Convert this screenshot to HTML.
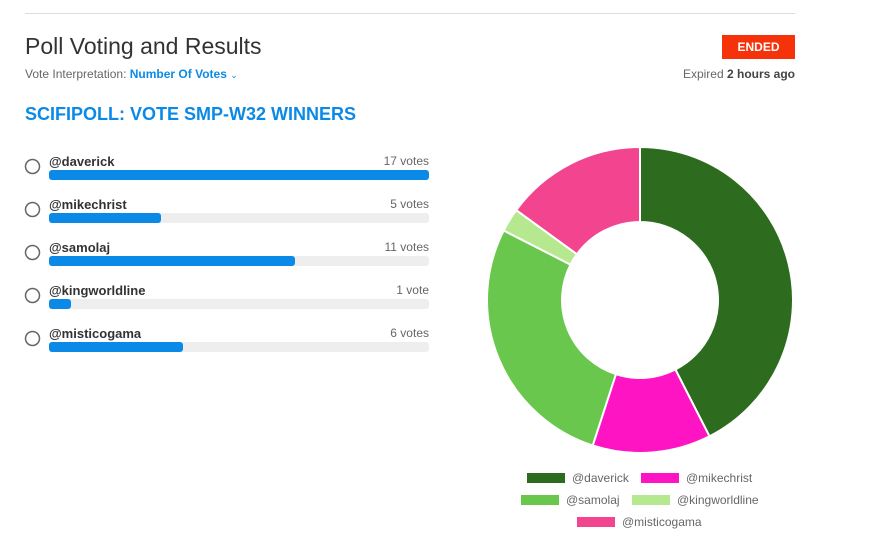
<!DOCTYPE html>
<html><head><style>
body{margin:0;width:875px;height:546px;background:#fff;font-family:"Liberation Sans",sans-serif;position:relative;overflow:hidden}
.a{position:absolute}
.row .name{position:absolute;left:49px;font-size:13px;font-weight:bold;color:#333}
.row .v{position:absolute;right:0;font-size:12px;color:#666}
</style></head><body>
<div class="a" style="left:25px;top:13px;width:770px;height:1px;background:#ddd"></div>
<div class="a" style="left:25px;top:33px;font-size:23px;color:#333;font-weight:500">Poll Voting and Results</div>
<div class="a" style="left:25px;top:67px;font-size:12px;color:#666">Vote Interpretation: <span style="color:#0a8ae6;font-weight:bold">Number Of Votes</span> <span style="color:#0a8ae6;font-size:9px">&#8964;</span></div>
<div class="a" style="left:722px;top:35px;width:73px;height:24px;background:#f5320a;color:#fff;font-size:12px;font-weight:bold;text-align:center;line-height:24px">ENDED</div>
<div class="a" style="right:80px;top:67px;font-size:12px;color:#666">Expired <b style="color:#444">2 hours ago</b></div>
<div class="a" style="left:25px;top:104px;font-size:18px;font-weight:bold;color:#0a8ae6">SCIFIPOLL: VOTE SMP-W32 WINNERS</div>

<div class="a" style="left:0;top:0">
<svg width="440" height="546" style="position:absolute;left:0;top:0">
<g fill="none" stroke="#666" stroke-width="1.5">
<circle cx="32.5" cy="166.5" r="7"/><circle cx="32.5" cy="209.5" r="7"/><circle cx="32.5" cy="252.5" r="7"/><circle cx="32.5" cy="295.5" r="7"/><circle cx="32.5" cy="338.5" r="7"/></g>
<g fill="#eee"><rect x="49" y="170" width="380" height="10" rx="3"/><rect x="49" y="213" width="380" height="10" rx="3"/><rect x="49" y="256" width="380" height="10" rx="3"/><rect x="49" y="299" width="380" height="10" rx="3"/><rect x="49" y="342" width="380" height="10" rx="3"/></g>
<g fill="#0a8ae6"><rect x="49" y="170" width="380" height="10" rx="3"/><rect x="49" y="213" width="112" height="10" rx="3"/><rect x="49" y="256" width="246" height="10" rx="3"/><rect x="49" y="299" width="22" height="10" rx="3"/><rect x="49" y="342" width="134" height="10" rx="3"/></g>
<g font-size="13" font-weight="bold" fill="#333" font-family="Liberation Sans,sans-serif">
<text x="49" y="166">@daverick</text><text x="49" y="209">@mikechrist</text><text x="49" y="252">@samolaj</text><text x="49" y="295">@kingworldline</text><text x="49" y="338">@misticogama</text></g>
<g font-size="12" fill="#666" text-anchor="end" font-family="Liberation Sans,sans-serif">
<text x="429" y="165">17 votes</text><text x="429" y="208">5 votes</text><text x="429" y="251">11 votes</text><text x="429" y="294">1 vote</text><text x="429" y="337">6 votes</text></g>
</svg></div>

<svg class="a" style="left:0;top:0" width="875" height="546">
<g stroke="#fff" stroke-width="2">
<path d="M640 147 A153 153 0 0 1 709.5 436.3 L675.4 369.5 A78 78 0 0 0 640 222Z" fill="#2d6b1f"/>
<path d="M709.5 436.3 A153 153 0 0 1 592.7 445.5 L615.9 374.2 A78 78 0 0 0 675.4 369.5Z" fill="#ff14c4"/>
<path d="M592.7 445.5 A153 153 0 0 1 503.7 230.5 L570.5 264.6 A78 78 0 0 0 615.9 374.2Z" fill="#68c74c"/>
<path d="M503.7 230.5 A153 153 0 0 1 516.2 210.1 L576.9 254.2 A78 78 0 0 0 570.5 264.6Z" fill="#b5e88f"/>
<path d="M516.2 210.1 A153 153 0 0 1 640 147 L640 222 A78 78 0 0 0 576.9 254.2Z" fill="#f2448f"/>
</g>
<g font-size="12" fill="#666" font-family="Liberation Sans,sans-serif">
<rect x="527" y="473" width="38" height="10" fill="#2d6b1f"/><text x="572" y="482">@daverick</text>
<rect x="641" y="473" width="38" height="10" fill="#ff14c4"/><text x="686" y="482">@mikechrist</text>
<rect x="521" y="495" width="38" height="10" fill="#68c74c"/><text x="566" y="504">@samolaj</text>
<rect x="632" y="495" width="38" height="10" fill="#b5e88f"/><text x="677" y="504">@kingworldline</text>
<rect x="577" y="517" width="38" height="10" fill="#f2448f"/><text x="622" y="526">@misticogama</text>
</g></svg>
</body></html>
